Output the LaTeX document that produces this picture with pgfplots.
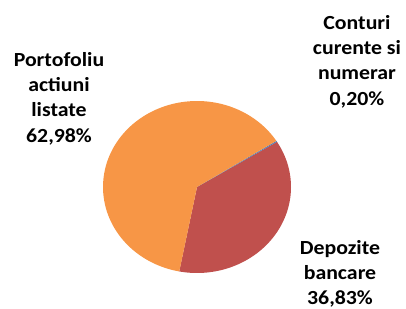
\documentclass[border=0pt]{standalone}
\usepackage{pgfplots}
\pgfplotsset{compat=1.18}
\usepackage{fontspec}
\setmainfont{Carlito}[FakeStretch=1.09]
\definecolor{cOrange}{HTML}{F79646}
\definecolor{cRed}{HTML}{C0504D}
\definecolor{cBlue}{HTML}{4F81BD}
\begin{document}
\begin{tikzpicture}[x=1pt,y=1pt]
\path[use as bounding box] (0pt,0pt) rectangle (406pt,308pt);
% percentages
\pgfmathsetmacro{\pRed}{36.83}
\pgfmathsetmacro{\pBlue}{0.20}
\pgfmathsetmacro{\pOrange}{62.98}
\pgfmathsetmacro{\aA}{-100.9}
\pgfmathsetmacro{\aB}{\aA+3.6*\pRed}
\pgfmathsetmacro{\aC}{\aB+3.6*\pBlue}
\pgfmathsetmacro{\aD}{\aC+3.6*\pOrange}
\begin{axis}[
  at={(197pt,121pt)}, anchor=center,
  scale only axis, width=188pt, height=172pt,
  xmin=-1, xmax=1, ymin=-1, ymax=1,
  hide axis, clip=false,
]
\addplot[draw=none, fill=cRed, domain=\aA:\aB, samples=80] ({cos(x)},{sin(x)}) -- (axis cs:0,0) -- cycle;
\addplot[draw=none, fill=cBlue, domain=\aB:\aC, samples=3] ({cos(x)},{sin(x)}) -- (axis cs:0,0) -- cycle;
\addplot[draw=none, fill=cOrange, domain=\aC:\aD, samples=120] ({cos(x)},{sin(x)}) -- (axis cs:0,0) -- cycle;
\end{axis}
\tikzset{lbl/.style={anchor=base, inner sep=0pt, font=\fontsize{20}{25}\selectfont\bfseries}}
% Portofoliu
\node[lbl] at (59pt,241.3pt) {Portofoliu};
\node[lbl] at (59pt,216.2pt) {actiuni};
\node[lbl] at (59pt,191.2pt) {listate};
\node[lbl] at (59pt,165.3pt) {62,98\%};
% Conturi
\node[lbl] at (357pt,278.5pt) {Conturi};
\node[lbl] at (357pt,253.2pt) {curente si};
\node[lbl] at (357pt,228pt) {numerar};
\node[lbl] at (357pt,202.8pt) {0,20\%};
% Depozite
\node[lbl] at (340pt,53.7pt) {Depozite};
\node[lbl] at (340pt,28.7pt) {bancare};
\node[lbl] at (340pt,4pt) {36,83\%};
\end{tikzpicture}
\end{document}
